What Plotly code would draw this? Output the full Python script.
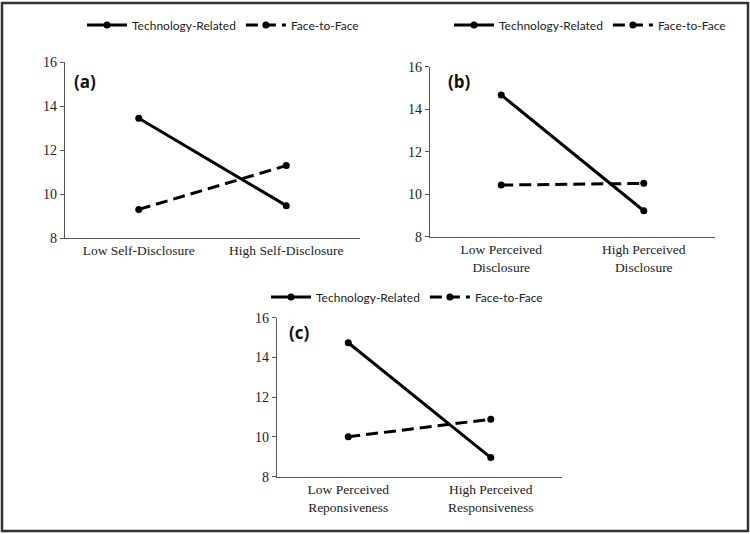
import plotly.graph_objects as go

# ---- data ----
series_names = ["Technology-Related", "Face-to-Face"]
cats_a = ["Low Self-Disclosure", "High Self-Disclosure"]
cats_b = ["Low Perceived<br>Disclosure", "High Perceived<br>Disclosure"]
cats_c = ["Low Perceived<br>Reponsiveness", "High Perceived<br>Responsiveness"]
tech_a = [13.44, 9.47]
f2f_a = [9.30, 11.29]
tech_b = [14.67, 9.22]
f2f_b = [10.43, 10.51]
tech_c = [14.74, 8.96]
f2f_c = [10.01, 10.89]
y_ticks = [8, 10, 12, 14, 16]
panel_labels = ["(a)", "(b)", "(c)"]

W, H = 750, 534
SERIF = "Liberation Serif, Times New Roman, serif"
LEGFONT = "Lato, Open Sans, sans-serif"

fig = go.Figure()
panels = [
    ("", cats_a, tech_a, f2f_a, "legend"),
    ("2", cats_b, tech_b, f2f_b, "legend2"),
    ("3", cats_c, tech_c, f2f_c, "legend3"),
]
for suf, cats, tech, f2f, leg in panels:
    for name, vals, dash in [(series_names[0], tech, "solid"), (series_names[1], f2f, "12px,6px")]:
        fig.add_trace(go.Scatter(
            x=cats, y=vals, name=name, mode="lines+markers",
            line=dict(color="black", width=3, dash=dash),
            marker=dict(color="black", size=7),
            xaxis="x" + suf, yaxis="y" + suf, legend=leg, showlegend=True,
        ))

def px2x(p):
    return p / W

def px2y(p):
    return 1 - p / H

# axis domains (pixel positions converted to paper fractions)
dom = {
    "": ((65, 360), (238, 62)),
    "2": ((430, 715), (236.7, 66.7)),
    "3": ((277, 562), (476.7, 317.7)),
}
layout = {}
for suf, ((x0, x1), (yb, yt)) in dom.items():
    layout["xaxis" + suf] = dict(
        domain=[px2x(x0), px2x(x1)], anchor="y" + suf, type="category",
        range=[-0.5, 1.5], showgrid=False, zeroline=False, automargin=False,
        showline=True, linecolor="#555", linewidth=1.3, ticks="",
        tickfont=dict(family=SERIF, size=13.5, color="#222"), fixedrange=True,
    )
    layout["yaxis" + suf] = dict(
        domain=[px2y(yb), px2y(yt)], anchor="x" + suf, range=[8, 16],
        tickvals=y_ticks, showgrid=False, zeroline=False, automargin=False,
        showline=True, linecolor="#555", linewidth=1.3, ticks="outside",
        ticklen=4, tickcolor="#555",
        tickfont=dict(family=SERIF, size=14, color="#222"), fixedrange=True,
    )

leg_common = dict(orientation="h", xanchor="left", yanchor="middle",
                  font=dict(family=LEGFONT, size=12, color="#222"),
                  bgcolor="rgba(0,0,0,0)", itemwidth=40, tracegroupgap=0)
layout["legend"] = dict(x=px2x(82), y=px2y(25), **leg_common)
layout["legend2"] = dict(x=px2x(449), y=px2y(25), **leg_common)
layout["legend3"] = dict(x=px2x(266), y=px2y(297), **leg_common)

fig.update_layout(
    width=W, height=H, margin=dict(l=0, r=0, t=0, b=0, autoexpand=False),
    paper_bgcolor="white", plot_bgcolor="white", **layout,
)

# panel labels
for (lab, (x, y)) in zip(panel_labels, [(72, 82), (446, 82), (287, 332)]):
    fig.add_annotation(text="<b>" + lab + "</b>", xref="paper", yref="paper",
                       x=px2x(x), y=px2y(y), xanchor="left", yanchor="middle",
                       showarrow=False,
                       font=dict(family="Open Sans, Liberation Sans, sans-serif", size=17, color="#111"))

# outer border
fig.add_shape(type="rect", xref="paper", yref="paper",
              x0=px2x(2), x1=px2x(748), y0=px2y(531), y1=px2y(3),
              line=dict(color="#333", width=2.5), fillcolor="rgba(0,0,0,0)")

post = ("document.documentElement.style.margin='0';"
        "document.body.style.margin='0';document.body.style.overflow='hidden';"
        "var gd=document.getElementById('{plot_id}');"
        "gd.style.position='fixed';gd.style.top='0px';gd.style.left='0px';")
fig.write_html("out.html", config={"displayModeBar": False}, post_script=post)
